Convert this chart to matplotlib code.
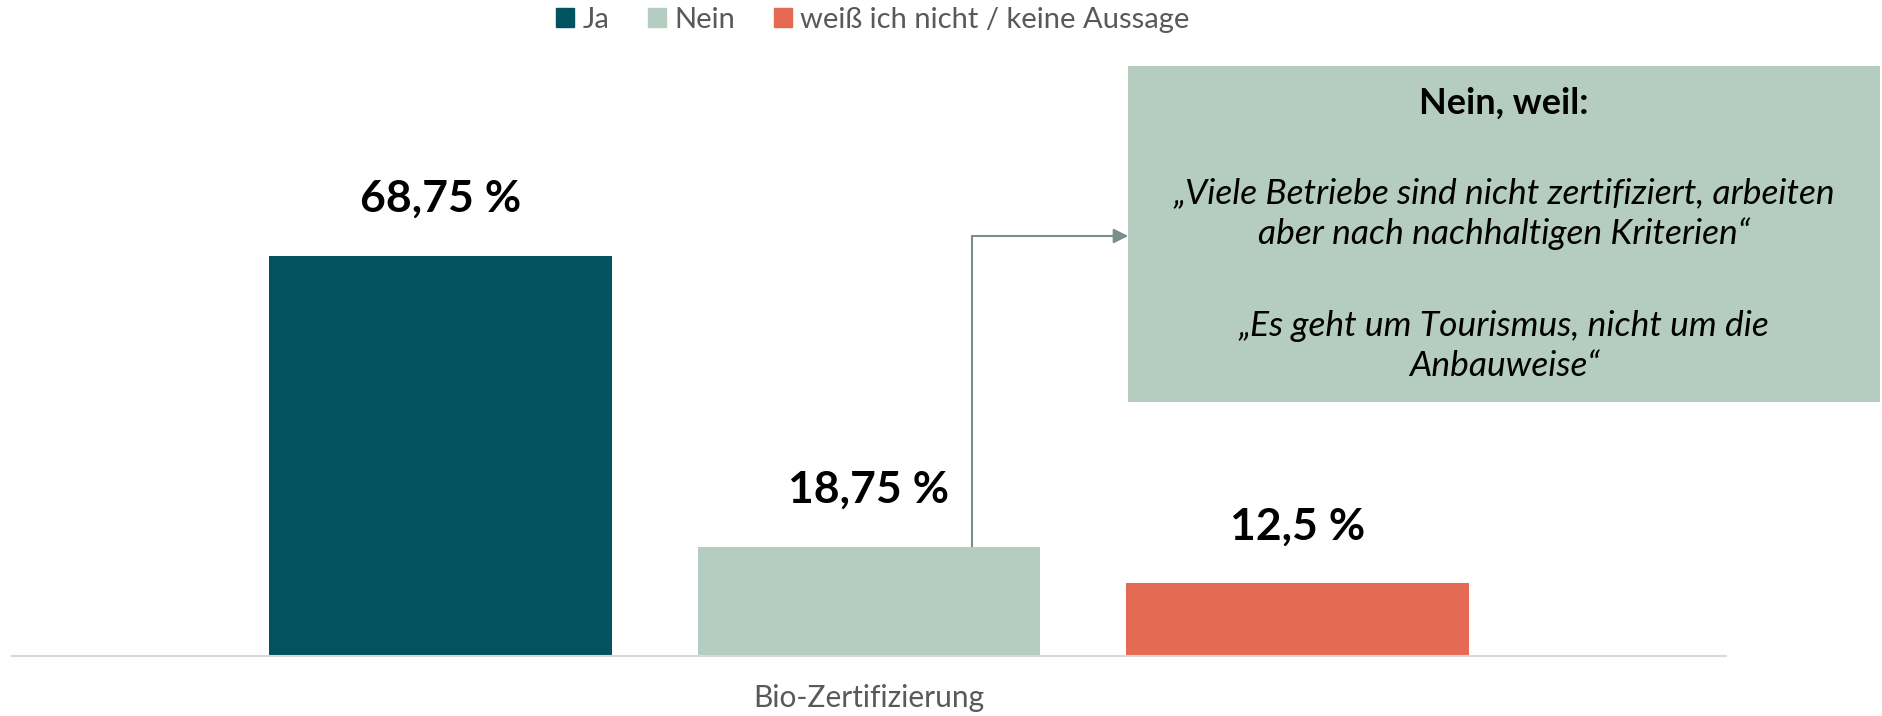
import matplotlib
matplotlib.use("Agg")
import matplotlib.pyplot as plt
from matplotlib.patches import Rectangle

# ----- Data -----
categories = ["Ja", "Nein", "weiß ich nicht / keine Aussage"]
values = [68.75, 18.75, 12.5]
value_labels = ["68,75 %", "18,75 %", "12,5 %"]
group_label = "Bio-Zertifizierung"
colors = ["#02535f", "#b5ccc0", "#e46a53"]

box_title = "Nein, weil:"
box_lines = [
    "„Viele Betriebe sind nicht zertifiziert, arbeiten",
    "aber nach nachhaltigen Kriterien“",
    "„Es geht um Tourismus, nicht um die",
    "Anbauweise“",
]
line_y = [193, 234, 326, 366]  # pixel rows from the top

plt.rcParams["font.family"] = ["Lato", "DejaVu Sans"]

W, H = 1883, 716
fig = plt.figure(figsize=(W / 100, H / 100), dpi=100)

# axes placed in pixel terms of the reference
ax = fig.add_axes([12 / W, 60 / H, 1714 / W, 656 / H])
ax.set_facecolor("none")
positions = [-1, 0, 1]
bars = ax.bar(positions, values, width=0.8, color=colors, zorder=2)
ax.set_xlim(-2.0, 2.0)
ax.set_ylim(0, 656 / 5.82)

for b, lab in zip(bars, value_labels):
    ax.annotate(lab, (b.get_x() + b.get_width() / 2, b.get_height()),
                xytext=(0, 41), textcoords="offset points",
                ha="center", va="center", fontsize=32, fontweight="bold",
                color="black")

for s in ["top", "right", "left"]:
    ax.spines[s].set_visible(False)
ax.spines["bottom"].set_color("#d9d9d9")
ax.spines["bottom"].set_linewidth(1.5)
ax.set_yticks([])
ax.set_xticks([0])
ax.set_xticklabels([group_label], fontsize=21.5, color="#595959")
ax.tick_params(axis="x", length=0, pad=20)

# connector from the "Nein" bar to the comment box
nein = bars[1]
cx = nein.get_x() + nein.get_width() / 2 + 0.24
ytop = (656 - 236) / 5.82
ax.plot([cx, cx], [nein.get_height(), ytop], color="#7a8e8b", lw=1.5,
        zorder=1, solid_capstyle="butt")
ax.annotate("", xy=(cx + 0.365, ytop), xytext=(cx, ytop),
            arrowprops=dict(arrowstyle="-|>", color="#7a8e8b", lw=1.5,
                            mutation_scale=22, shrinkA=0, shrinkB=0))

# comment box
bx0, bx1, by0, by1 = 1128, 1880, 66, 402
fig.add_artist(Rectangle((bx0 / W, 1 - by1 / H), (bx1 - bx0) / W, (by1 - by0) / H,
                         transform=fig.transFigure, facecolor="#b5ccc0",
                         edgecolor="none", zorder=-1))
bcx = (bx0 + bx1) / 2 / W
fig.text(bcx, 1 - 103 / H, box_title, ha="center", va="center",
         fontsize=26, fontweight="bold", color="black")
for line, y in zip(box_lines, line_y):
    fig.text(bcx, 1 - y / H, line, ha="center", va="center",
             fontsize=25.5, style="italic", color="black")

# legend
handles = [Rectangle((0, 0), 1, 1, color=c) for c in colors]
leg = fig.legend(handles, categories, loc="center", bbox_to_anchor=(873 / W, 1 - 20 / H),
                 ncol=3, frameon=False, fontsize=21, handlelength=0.62,
                 handleheight=0.62, handletextpad=0.3, columnspacing=1.3)
for t in leg.get_texts():
    t.set_color("#595959")

fig.savefig("out.png", dpi=100)
